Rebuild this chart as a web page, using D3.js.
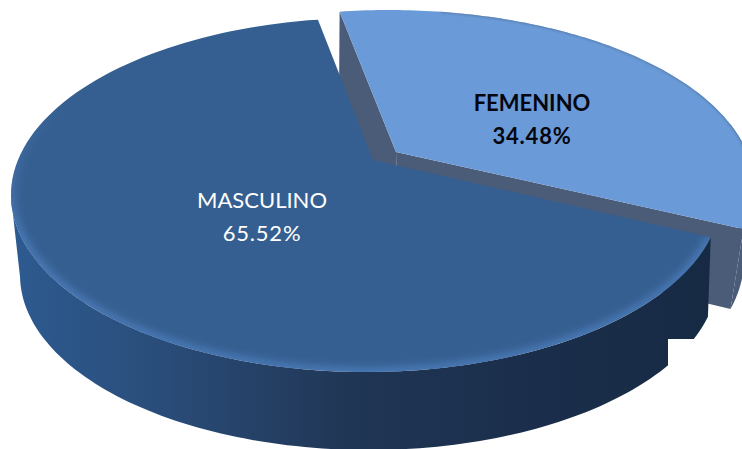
<!DOCTYPE html>
<html><head><meta charset="utf-8">
<script src="https://cdn.jsdelivr.net/npm/d3@7"></script>
<style>html,body{margin:0;padding:0;background:#fff}svg{display:block}</style>
</head><body><div id="c"></div>
<script>
const categories = ["FEMENINO", "MASCULINO"];
const shares = [34.48, 65.52];
const percentLabels = ["34.48%", "65.52%"];

const W = 742, H = 449;
const rad = d => d * Math.PI / 180;
const svg = d3.select("#c").append("svg").attr("width", W).attr("height", H);
const defs = svg.append("defs");

// Perspective disc: the disc centre lands at offset k above the ellipse centre, ax beside it.
const disc = e => th => {
  const x = Math.sin(th), y = Math.cos(th), q = 1 + e.k * y;
  return [e.cx + e.rx * x * Math.sqrt(1 - e.k * e.k) / q, e.cy - e.ry * (y + e.k) / q];
};
const mainTop  = {cx: 366, cy: 195, rx: 355, ry: 177, k: 0.198, ax: 7};
const mainBase = {cx: 369, cy: 275, rx: 349, ry: 175, k: 0.198, ax: 3};
const femTop   = {cx: 389, cy: 187, rx: 365, ry: 177, k: 0.198, ax: 7};
const femBase  = {cx: 389, cy: 259, rx: 355, ry: 183, k: 0.162, ax: 9};
const centre = e => [e.cx + e.ax, e.cy - e.ry * e.k];

const arcs = d3.pie().sort(null).value(d => d)
  .startAngle(rad(-9.5)).endAngle(rad(350.5))(shares);
const fem = arcs[0], mas = arcs[1];

const line = d3.line();
const sample = (e, a, b) => d3.range(0, 121).map(i => disc(e)(a + (b - a) * i / 120));
const sector = (e, a, b) => line([centre(e), ...sample(e, a, b)]) + "Z";
const band = (t, u, a, b) => line([...sample(t, a, b), ...sample(u, a, b).reverse()]) + "Z";

// Gradients and blur
const g1 = defs.append("linearGradient").attr("id", "side")
  .attr("gradientUnits", "userSpaceOnUse").attr("x1", 15).attr("x2", 712).attr("y1", 0).attr("y2", 0);
[[0, "#2d5a90"], [0.18, "#2a4f7d"], [0.32, "#26436a"], [0.48, "#203655"], [0.75, "#1a2e4b"], [1, "#172a44"]]
  .forEach(s => g1.append("stop").attr("offset", s[0]).attr("stop-color", s[1]));
const g2 = defs.append("linearGradient").attr("id", "rim")
  .attr("gradientUnits", "userSpaceOnUse").attr("x1", 0).attr("x2", 0).attr("y1", 100).attr("y2", 240);
g2.append("stop").attr("offset", 0).attr("stop-color", "#4b7ab4").attr("stop-opacity", 0);
g2.append("stop").attr("offset", 1).attr("stop-color", "#4f82c2").attr("stop-opacity", 1);
defs.append("filter").attr("id", "blur").attr("x", "-10%").attr("y", "-10%").attr("width", "120%").attr("height", "120%")
  .append("feGaussianBlur").attr("stdDeviation", 4);
defs.append("filter").attr("id", "blur2").attr("x", "-10%").attr("y", "-10%").attr("width", "120%").attr("height", "120%")
  .append("feGaussianBlur").attr("stdDeviation", 1.2);
defs.append("clipPath").attr("id", "clipMain").append("path")
  .attr("d", sector(mainTop, mas.startAngle, mas.endAngle));
defs.append("clipPath").attr("id", "clipFem").append("path")
  .attr("d", sector(femTop, fem.startAngle, fem.endAngle));

// Femenino slice: walls, then top face
const wall = "#4a5c78";
svg.append("path").attr("fill", wall)
  .attr("d", band(femTop, femBase, rad(80), fem.endAngle));
const cutA = disc(femTop)(fem.startAngle), cutB = disc(femBase)(fem.startAngle);
const cutC = disc(femTop)(fem.endAngle), cutD = disc(femBase)(fem.endAngle);
svg.append("path").attr("fill", wall)
  .attr("d", line([centre(femTop), cutA, cutB, centre(femBase)]) + "Z");
svg.append("path").attr("fill", wall)
  .attr("d", line([centre(femTop), cutC, cutD, centre(femBase)]) + "Z");
svg.append("path").attr("fill", "#6a9ad8")
  .attr("d", sector(femTop, fem.startAngle, fem.endAngle));
svg.append("g").attr("clip-path", "url(#clipFem)").append("path")
  .attr("fill", "none").attr("stroke", "#5a80ae").attr("stroke-width", 2.5).attr("filter", "url(#blur2)")
  .attr("d", line(sample(femTop, rad(10), fem.endAngle)));

// Masculino slice: side band, then top face with a soft lit rim
svg.append("path").attr("fill", "url(#side)")
  .attr("d", band(mainTop, mainBase, mas.startAngle, rad(258)));
svg.append("path").attr("fill", "#365f91")
  .attr("d", sector(mainTop, mas.startAngle, mas.endAngle));
svg.append("g").attr("clip-path", "url(#clipMain)").append("path")
  .attr("fill", "none").attr("stroke", "url(#rim)").attr("stroke-width", 7).attr("filter", "url(#blur)")
  .attr("d", line(sample(mainTop, mas.startAngle, rad(290))));

// Text
const labels = [
  {i: 0, x: 532, y1: 111, y2: 144, fill: "#06060f", weight: 700},
  {i: 1, x: 262, y1: 208, y2: 241, fill: "#ffffff", weight: 400}
];
labels.forEach(l => {
  const t = svg.append("text").attr("text-anchor", "middle")
    .attr("font-family", "Lato, 'Open Sans', sans-serif")
    .attr("font-size", 22).attr("font-weight", l.weight).attr("fill", l.fill);
  t.append("tspan").attr("x", l.x).attr("y", l.y1).text(categories[l.i]);
  t.append("tspan").attr("x", l.x).attr("y", l.y2).attr("letter-spacing", 0.8).text(percentLabels[l.i]);
});

// White patch that masks the lower right corner in the source image
svg.append("rect").attr("x", 668).attr("y", 339).attr("width", 74).attr("height", 110).attr("fill", "#fff");
</script></body></html>
